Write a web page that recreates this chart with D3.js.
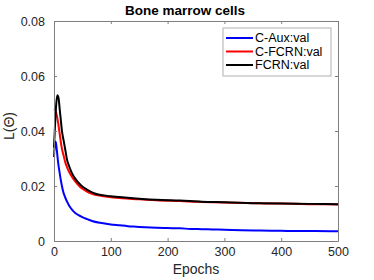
<!DOCTYPE html>
<html>
<head>
<meta charset="utf-8">
<script src="https://cdn.jsdelivr.net/npm/d3@7"></script>
<style>
  html, body { margin: 0; padding: 0; background: #fff; }
  svg { display: block; font-family: "Liberation Sans", Arial, Helvetica, sans-serif; }
</style>
</head>
<body>
<div id="chart"></div>
<script>
/* ── Data ──────────────────────────────────────────────────────────── */
const xTicks = [0, 100, 200, 300, 400, 500];
const yTicks = [0, 0.02, 0.04, 0.06, 0.08];

const epochsAux = [0, 1, 3, 5, 7, 10, 13, 16, 19, 23, 27, 32, 38, 44, 50, 58, 67, 81, 100,
  115, 130, 145, 160, 180, 200, 222, 240, 260, 280, 300, 330, 363, 400, 430, 460, 500];
const auxVal = [0.0305, 0.0340, 0.0362, 0.0330, 0.0290, 0.0247, 0.0210, 0.0181, 0.0162, 0.0143,
  0.0127, 0.0113, 0.0101, 0.0093, 0.0087, 0.0080, 0.0073, 0.0066, 0.0060,
  0.0057, 0.0054, 0.0052, 0.0050, 0.0048, 0.0047, 0.0046, 0.0044, 0.0043, 0.0042, 0.0041,
  0.0039, 0.0038, 0.0037, 0.0036, 0.0036, 0.0035];

const epochsFcrn = [0, 2, 4, 6, 8, 10, 12, 14, 17, 20, 23, 27, 32, 38, 44, 50, 58, 67, 80, 100,
  120, 150, 180, 222, 260, 300, 363, 400, 450, 500];
const cFcrnVal = [0.0476, 0.0478, 0.0465, 0.0445, 0.0420, 0.0390, 0.0360, 0.0335, 0.0310, 0.0285,
  0.0268, 0.0250, 0.0232, 0.0215, 0.0201, 0.0190, 0.0180, 0.0172, 0.0165, 0.0159,
  0.0155, 0.0152, 0.0148, 0.0145, 0.0142, 0.0140, 0.0137, 0.0136, 0.0134, 0.0133];
const fcrnVal = [0.0340, 0.0430, 0.0500, 0.0530, 0.0520, 0.0480, 0.0440, 0.0400, 0.0365, 0.0330,
  0.0295, 0.0270, 0.0245, 0.0225, 0.0210, 0.0198, 0.0187, 0.0177, 0.0168, 0.0163,
  0.0159, 0.0154, 0.0150, 0.0147, 0.0143, 0.0141, 0.0137, 0.0136, 0.0135, 0.0134];

const seriesNames  = ['C-Aux:val', 'C-FCRN:val', 'FCRN:val'];
const seriesColors = ['#0000ff', '#ff0000', '#000000'];

/* ── Layout ────────────────────────────────────────────────────────── */
const W = 374, H = 280;
const margin = { left: 54, right: 36, top: 21, bottom: 39 };
const w = W - margin.left - margin.right;
const h = H - margin.top - margin.bottom;

const svg = d3.select('#chart').append('svg')
  .attr('width', W).attr('height', H);

const g = svg.append('g')
  .attr('transform', `translate(${margin.left},${margin.top})`);

const x = d3.scaleLinear().domain([0, 500]).range([0, w]);
const y = d3.scaleLinear().domain([0, 0.08]).range([h, 0]);

/* ── Lines ─────────────────────────────────────────────────────────── */
const series = [
  { ep: epochsAux,  v: auxVal },
  { ep: epochsFcrn, v: cFcrnVal },
  { ep: epochsFcrn, v: fcrnVal }
];

const line = d3.line()
  .x(d => x(d[0])).y(d => y(d[1]))
  .curve(d3.curveMonotoneX);

series.forEach((s, i) => {
  const pts = s.ep.map((e, k) => [e, s.v[k]]);
  g.append('path').datum(pts)
    .attr('d', line)
    .attr('fill', 'none')
    .attr('stroke', seriesColors[i])
    .attr('stroke-width', 2)
    .attr('stroke-linejoin', 'round');
});

/* ── Axes (MATLAB-style box with inward ticks) ─────────────────────── */
const axisColor = '#7f7f7f';
const textColor = '#262626';

function styleAxis(sel) {
  sel.select('.domain').attr('stroke', axisColor);
  sel.selectAll('line').attr('stroke', axisColor);
  sel.selectAll('text').attr('fill', textColor).attr('font-size', '12.5px');
}

g.append('g')
  .attr('transform', `translate(0,${h})`)
  .call(d3.axisBottom(x).tickValues(xTicks).tickSize(-3).tickSizeOuter(0).tickPadding(6))
  .call(styleAxis)
  .call(sel => sel.selectAll('text').attr('dy', '0.71em').attr('y', 6));

g.append('g')
  .call(d3.axisLeft(y).tickValues(yTicks).tickSize(-3).tickSizeOuter(0).tickPadding(9)
    .tickFormat(d => d === 0 ? '0' : d3.format('.2f')(d)))
  .call(styleAxis);

g.append('g')
  .call(d3.axisTop(x).tickValues(xTicks).tickSize(-3).tickSizeOuter(0).tickFormat(''))
  .call(styleAxis);

g.append('g')
  .attr('transform', `translate(${w},0)`)
  .call(d3.axisRight(y).tickValues(yTicks).tickSize(-3).tickSizeOuter(0).tickFormat(''))
  .call(styleAxis);

/* ── Title & labels ────────────────────────────────────────────────── */
svg.append('text')
  .attr('x', 185).attr('y', 15)
  .attr('text-anchor', 'middle')
  .attr('font-size', '13.5px').attr('font-weight', 'bold')
  .attr('fill', '#000')
  .text('Bone marrow cells');

svg.append('text')
  .attr('x', margin.left + w / 2).attr('y', 274)
  .attr('text-anchor', 'middle')
  .attr('font-size', '14px')
  .attr('fill', textColor)
  .text('Epochs');

svg.append('text')
  .attr('transform', `translate(14,${margin.top + h / 2 - 5}) rotate(-90)`)
  .attr('text-anchor', 'middle')
  .attr('font-size', '14px')
  .attr('fill', textColor)
  .text('L(Θ)');

/* ── Legend ────────────────────────────────────────────────────────── */
const legend = svg.append('g').attr('transform', 'translate(223,28)');

legend.append('rect')
  .attr('width', 108).attr('height', 48)
  .attr('fill', '#fff')
  .attr('stroke', '#b0b0b0')
  .attr('stroke-width', 1);

seriesNames.forEach((name, i) => {
  const ly = 10 + i * 13.5;
  legend.append('line')
    .attr('x1', 3).attr('x2', 30)
    .attr('y1', ly).attr('y2', ly)
    .attr('stroke', seriesColors[i])
    .attr('stroke-width', 2);
  legend.append('text')
    .attr('x', 32).attr('y', ly + 4.3)
    .attr('font-size', '12.5px')
    .attr('fill', '#000')
    .text(name);
});
</script>
</body>
</html>
